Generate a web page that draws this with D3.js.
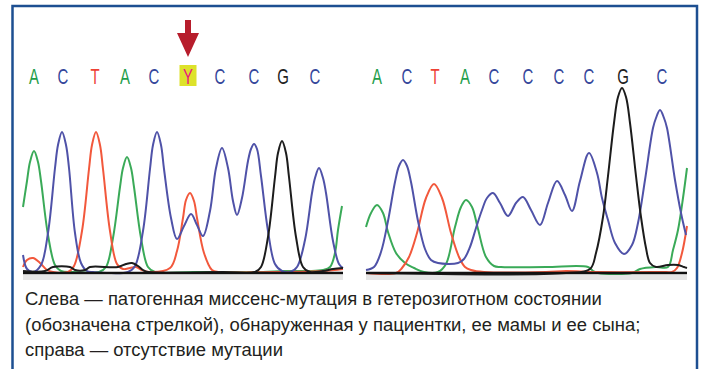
<!DOCTYPE html>
<html>
<head>
<meta charset="utf-8">
<script src="https://cdn.jsdelivr.net/npm/d3@7"></script>
<style>
  html, body { margin: 0; padding: 0; background: #fff; }
  svg { display: block; }
</style>
</head>
<body>
<svg id="chart" width="704" height="369"></svg>
<script>
// Base calls and their positions (scan units along each trace)
const leftCalls = ["A", "C", "T", "A", "C", "Y", "C", "C", "G", "C"];
const leftCallPos = [11, 40, 72, 102, 131, 165, 197, 231, 260, 292];
const rightCalls = ["A", "C", "T", "A", "C", "C", "C", "C", "G", "C"];
const rightCallPos = [11, 41, 69, 99, 128, 162, 193, 223, 257, 296];

// Heterozygous position marked with an arrow
const mutantIndex = 5;

// Left trace (patient): [scan, signal intensity]
const leftA = [[0,66],[4,92],[7,111],[11,122],[15,111],[18,92],[25,38],[32,8],[38,2],[50,1],[76,1],[83,6],[90,35],[97,86],[100,105],[104,116],[108,105],[111,86],[118,35],[125,6],[132,1],[170,1],[240,1],[260,2],[285,2],[300,3],[307,6],[312,20],[315,43],[319,67]];
const leftC = [[0,18],[4,4],[10,1],[18,8],[25,40],[32,105],[35,128],[39,141],[43,128],[46,105],[52,40],[58,10],[64,2],[70,1],[105,1],[112,7],[120,42],[127,104],[130,128],[134,141],[138,128],[141,104],[148,55],[154,34],[161,47],[168,59],[174,48],[180,37],[187,62],[193,105],[199,125],[205,105],[210,72],[214,58],[219,75],[225,112],[228,124],[231,129],[234,124],[238,97],[245,42],[252,9],[259,2],[267,1],[274,6],[282,33],[289,80],[292,95],[296,105],[300,95],[303,80],[310,32],[316,9],[320,5]];
const leftT = [[0,6],[4,13],[10,15],[17,10],[24,3],[30,1],[45,1],[51,7],[59,42],[66,104],[69,128],[73,141],[77,128],[80,104],[87,42],[94,9],[100,4],[107,5],[113,6],[119,3],[127,1],[147,5],[154,22],[160,55],[163,73],[167,80],[171,72],[174,55],[181,20],[189,3],[196,1],[250,1],[300,2],[320,4]];
const leftG = [[0,2],[22,2],[30,6],[47,6],[52,3],[62,3],[67,6],[95,6],[103,9],[109,10],[115,7],[120,3],[125,1],[200,1],[232,1],[238,6],[245,36],[252,96],[255,120],[259,132],[263,120],[266,96],[273,36],[280,6],[287,1],[300,2],[310,4],[320,5]];

// Right trace (no mutation): [scan, signal intensity]
const rightA = [[0,46],[5,60],[11,68],[17,60],[22,41],[30,20],[39,10],[48,5],[58,1],[72,1],[80,9],[89,46],[95,66],[100,73],[106,66],[112,44],[120,16],[128,7],[135,6],[180,6],[222,6],[227,2],[232,0],[266,0],[274,4],[290,6],[302,6],[307,23],[312,43],[317,75],[321,105]];
const rightC = [[0,3],[8,6],[15,21],[22,52],[29,91],[33,107],[37,113],[41,107],[45,91],[52,52],[59,24],[65,13],[72,10],[92,10],[98,14],[104,26],[110,45],[116,63],[121,75],[127,80],[134,70],[142,57],[150,70],[157,76],[165,63],[174,48],[182,70],[191,92],[199,78],[206,62],[214,92],[223,120],[231,100],[236,75],[242,53],[249,30],[258,19],[266,28],[272,50],[279,93],[287,145],[290,155],[294,163],[298,155],[301,145],[309,93],[315,60],[320,38]];
const rightT = [[0,0],[30,0],[36,5],[43,16],[51,40],[60,75],[68,89],[76,75],[85,40],[93,16],[99,6],[105,3],[118,1],[180,1],[200,2],[230,1],[300,1],[306,1],[311,5],[316,20],[321,47]];
const rightG = [[0,0],[200,0],[224,4],[230,20],[237,56],[242,97],[248,150],[252,176],[256,185],[260,176],[264,150],[270,97],[275,56],[280,25],[284,10],[290,6],[302,8],[312,8],[318,6],[321,5]];

const baseColor = { A: "#1f9e4b", C: "#34479b", T: "#ee4236", G: "#222222", Y: "#e8197f" };
const traceColor = { A: "#3aaa58", C: "#4f52a8", T: "#f2583c", G: "#1c1c1c" };

const caption = [
  "Слева — патогенная миссенс-мутация в гетерозиготном состоянии",
  "(обозначена стрелкой), обнаруженная у пациентки, ее мамы и ее сына;",
  "справа — отсутствие мутации"
];

const svg = d3.select("#chart");

// Frame
svg.append("rect")
  .attr("x", 12.5).attr("y", 6)
  .attr("width", 684.5).attr("height", 420)
  .attr("fill", "#fff")
  .attr("stroke", "#1d4f91").attr("stroke-width", 2.5);

const y = d3.scaleLinear().domain([0, 200]).range([273, 73]);

const panels = [
  { calls: leftCalls, pos: leftCallPos, traces: { A: leftA, C: leftC, T: leftT, G: leftG },
    x: d3.scaleLinear().domain([0, 320]).range([23, 343]), mark: mutantIndex },
  { calls: rightCalls, pos: rightCallPos, traces: { A: rightA, C: rightC, T: rightT, G: rightG },
    x: d3.scaleLinear().domain([0, 321]).range([366, 687]), mark: -1 }
];

const line = d3.line().curve(d3.curveCatmullRom.alpha(0.5));

panels.forEach(p => {
  const g = svg.append("g");
  const [x0, x1] = p.x.range();

  // light shadow band under the baseline
  g.append("rect")
    .attr("x", x0).attr("y", y(0) + 2)
    .attr("width", x1 - x0).attr("height", 5)
    .attr("fill", "#e6e6e6");

  // traces, black drawn last so it sits on top
  ["A", "T", "C", "G"].forEach(b => {
    line.x(d => p.x(d[0])).y(d => y(d[1]));
    g.append("path")
      .attr("d", line(p.traces[b]))
      .attr("fill", "none")
      .attr("stroke", traceColor[b])
      .attr("stroke-width", 2)
      .attr("stroke-linejoin", "round");
  });

  // baseline
  g.append("line")
    .attr("x1", x0).attr("x2", x1)
    .attr("y1", y(0)).attr("y2", y(0))
    .attr("stroke", "#111").attr("stroke-width", 2.5);

  // base calls
  p.calls.forEach((c, i) => {
    const cx = p.x(p.pos[i]);
    if (i === p.mark) {
      g.append("rect")
        .attr("x", cx - 8.5).attr("y", 65)
        .attr("width", 17).attr("height", 21)
        .attr("fill", "#dde22a");
      // arrow pointing down at the heterozygous call
      g.append("path")
        .attr("d", `M${cx - 3},20 L${cx + 3},20 L${cx + 3},33 L${cx + 11},33 L${cx},57 L${cx - 11},33 L${cx - 3},33 Z`)
        .attr("fill", "#b71d2c");
    }
    g.append("text")
      .attr("transform", `translate(${cx},84) scale(0.68,1)`)
      .attr("text-anchor", "middle")
      .attr("font-family", "'Liberation Sans', Arial, sans-serif")
      .attr("font-size", 22)
      .attr("fill", baseColor[c])
      .text(c);
  });
});

// Caption
const capG = svg.append("g");
const capLines = caption.map((t, i) =>
  capG.append("text")
    .attr("x", 0).attr("y", 0)
    .attr("font-family", "'Liberation Sans', Arial, sans-serif")
    .attr("font-size", 18.5)
    .attr("fill", "#231f20")
    .text(t)
);
const w0 = capLines[0].node().getComputedTextLength();
const sx = 577 / w0;
const baselines = [305, 330.5, 356];
capLines.forEach((t, i) => t.attr("transform", `translate(25,${baselines[i]}) scale(${sx},1)`));
</script>
</body>
</html>
